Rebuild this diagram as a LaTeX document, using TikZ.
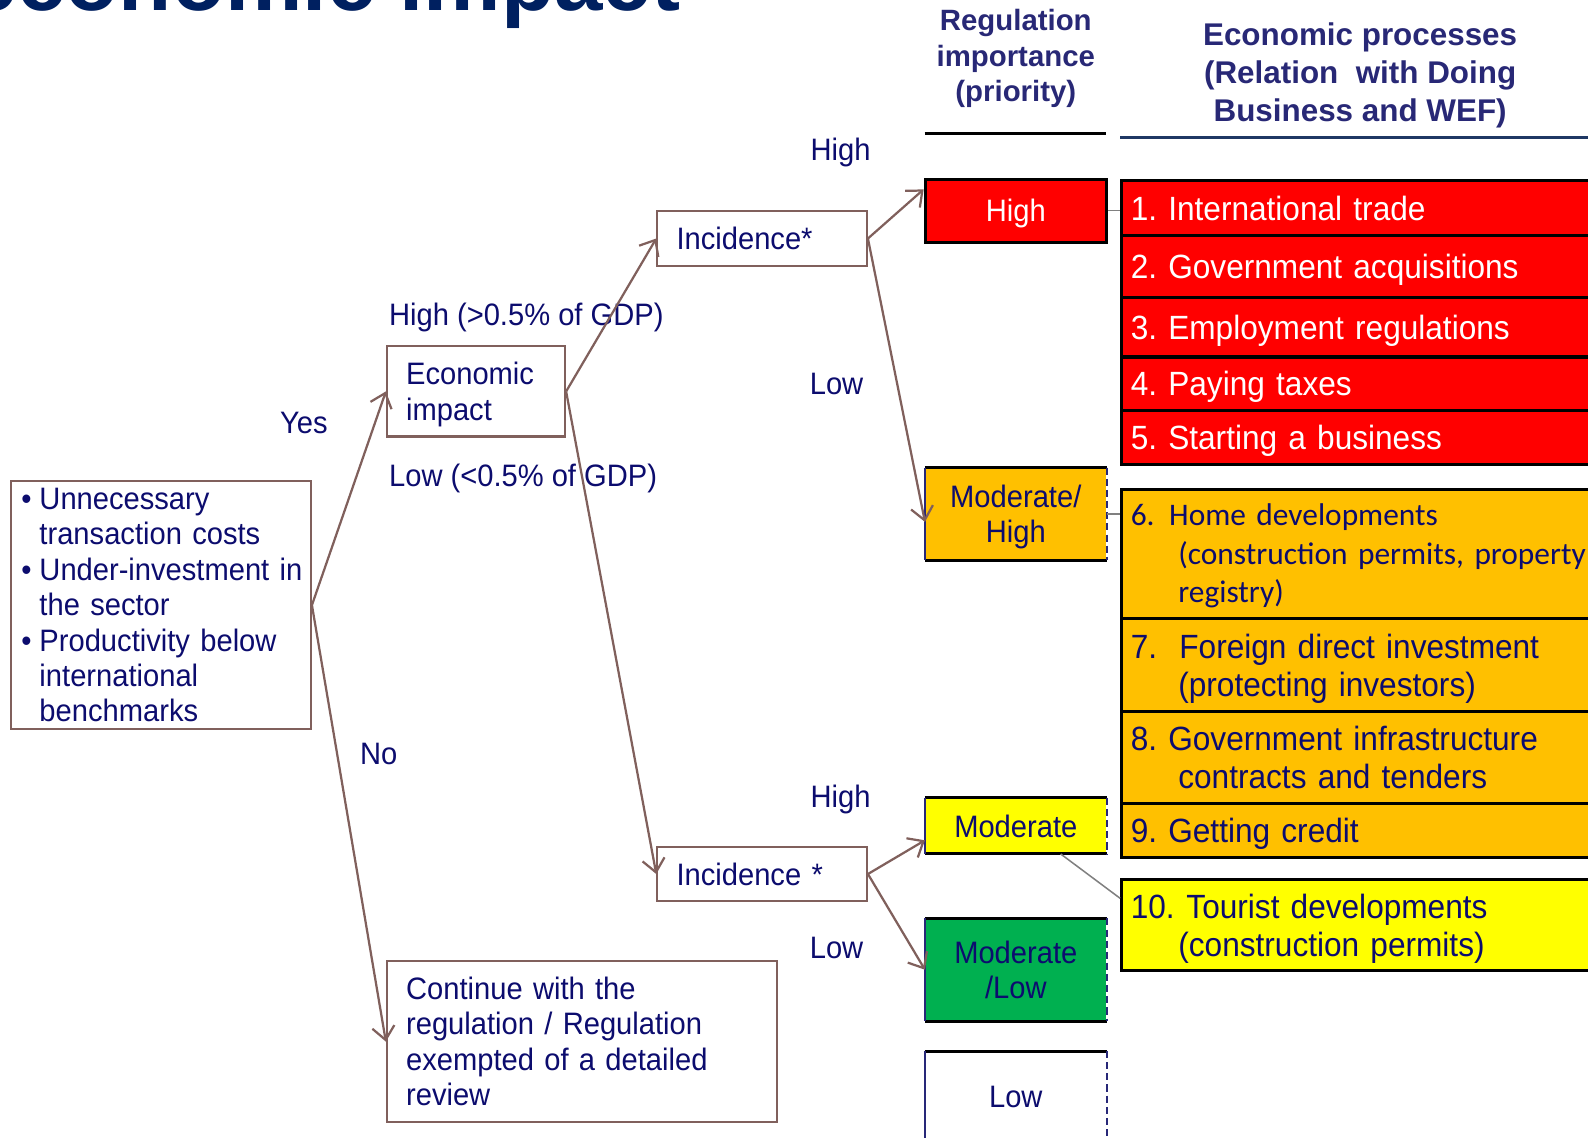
\documentclass[tikz,border=0pt]{standalone}
\usepackage{fontspec}
\setmainfont{Liberation Sans}[FakeStretch=0.94]
\newfontfamily\headfont{Liberation Sans}
\newfontfamily\calfont{Carlito}
\usetikzlibrary{arrows.meta}

\definecolor{inkblue}{RGB}{12,12,110}
\definecolor{headblue}{RGB}{40,40,118}
\definecolor{titleblue}{RGB}{0,32,96}
\definecolor{linkbrown}{RGB}{128,96,92}
\definecolor{ruleblue}{RGB}{31,56,100}
\definecolor{edgenavy}{RGB}{40,40,120}
\definecolor{prioRed}{RGB}{255,0,0}
\definecolor{prioOrange}{RGB}{255,192,0}
\definecolor{prioYellow}{RGB}{255,255,0}
\definecolor{prioGreen}{RGB}{0,176,80}

\begin{document}
\frenchspacing
\begin{tikzpicture}[x=1pt,y=-1pt,
  body/.style={text=inkblue,font=\fontsize{30.6}{35}\selectfont},
  lbl/.style={body,inner sep=0pt},
  flowbox/.style={body,draw=linkbrown,line width=2pt,align=left,
    inner xsep=19pt,inner ysep=0pt,anchor=north west},
  link/.style={draw=linkbrown,line width=2.2pt,
    -{Straight Barb[length=13pt,width=22pt]}},
  greylink/.style={draw=gray,line width=1.5pt},
  tier/.style={body,minimum width=179pt,inner sep=0pt,align=center},
  oneline/.style={text height=22pt,text depth=0pt},
  twoline/.style={text height=57pt,text depth=0pt},
  rowbox/.style={draw=black,line width=3pt,anchor=north west,
    text width=482pt,inner xsep=9pt,inner ysep=0pt,align=left,
    text=inkblue,font=\fontsize{33.2}{37.5}\selectfont,text height=24pt,text depth=0pt},
  rowtwo/.style={text depth=37.5pt},
  headtext/.style={text=headblue,align=center,inner sep=0pt}
]
\useasboundingbox (0,0) rectangle (1568,1123);
\fill[white] (0,0) rectangle (1568,1123);

% slide title, running off the top edge
\node[anchor=base east,inner sep=0pt,text=titleblue,
  font=\headfont\bfseries\fontsize{86}{90}\selectfont] (title) at (672,10) {economic impact};

% column headings and their rules
\node[headtext,font=\headfont\bfseries\fontsize{29}{35}\selectfont] (hdprio) at (1003,58)
  {Regulation\\importance\\(priority)};
\node[headtext,font=\headfont\bfseries\fontsize{31}{37.5}\selectfont] (hdproc) at (1343,74)
  {Economic processes\\(Relation\ \ with Doing\\Business and WEF)};
\draw[line width=3pt,black] (913,132) -- (1092,132);
\draw[line width=3pt,ruleblue] (1106,136) -- (1600,136);

% decision tree
\node[flowbox,text width=284pt,inner xsep=6pt,minimum height=245pt] (cause) at (10,474)
  {\hspace*{4pt}\makebox[18pt][l]{•}Unnecessary\\
   \hspace*{22pt}transaction costs\\
   \hspace*{4pt}\makebox[18pt][l]{•}Under-investment in\\
   \hspace*{22pt}the sector\\
   \hspace*{4pt}\makebox[18pt][l]{•}Productivity below\\
   \hspace*{22pt}international\\
   \hspace*{22pt}benchmarks};
\node[flowbox,text width=138pt,minimum height=89pt,text height=22pt,text depth=35pt] (ei) at (381,341) {Economic\\impact};
\node[flowbox,text width=169pt,minimum height=55pt] (inc1) at (648,207) {Incidence*};
\node[flowbox,text width=169pt,minimum height=54pt] (inc2) at (648,835) {Incidence *};
\node[flowbox,text width=347pt,minimum height=159pt] (cont) at (381,948)
  {Continue with the\\regulation / Regulation\\exempted of a detailed\\review};

% branch labels
\node[lbl] (yes) at (300,418) {Yes};
\node[lbl] (no) at (374,744) {No};
\node[lbl,anchor=west] (eihigh) at (384,313) {High (>0.5\% of GDP)};
\node[lbl,anchor=west] (eilow) at (384,472) {Low (<0.5\% of GDP)};
\node[lbl] (i1high) at (830,151) {High};
\node[lbl] (i1low) at (826,379) {Low};
\node[lbl] (i2high) at (830,789) {High};
\node[lbl] (i2low) at (826,936) {Low};

% priority tiers
\node[tier,oneline,fill=prioRed,text=white,minimum height=62pt,draw=black,line width=3pt] (hi) at (1003,208) {High};
\node[tier,twoline,fill=prioOrange,minimum height=91pt] (mh) at (1003,507.5) {Moderate/\\High};
\node[tier,oneline,fill=prioYellow,minimum height=55pt] (mod) at (1003,815.5) {Moderate};
\node[tier,twoline,fill=prioGreen,minimum height=101pt] (ml) at (1003,957.5) {Moderate\\/Low};
\node[tier,oneline,minimum height=90pt] (lo) at (1003,1083) {Low};
\foreach \t in {mh,mod,ml,lo} {
  \draw[line width=3pt] (\t.north west) -- (\t.north east) (\t.south west) -- (\t.south east);
  \draw[edgenavy,line width=2pt] (\t.north west) -- (\t.south west);
  \draw[edgenavy,line width=2pt,dash pattern=on 7pt off 4pt] (\t.north east) -- (\t.south east);
}

% economic processes
\node[rowbox,fill=prioRed,text=white,minimum height=54pt] (r1) at (1106,177) {1. International trade};
\node[rowbox,fill=prioRed,text=white,minimum height=61pt] (r2) at (1106,231) {2. Government acquisitions};
\node[rowbox,fill=prioRed,text=white,minimum height=59pt] (r3) at (1106,292) {3. Employment regulations};
\node[rowbox,fill=prioRed,text=white,minimum height=53pt] (r4) at (1106,351) {4. Paying taxes};
\node[rowbox,fill=prioRed,text=white,minimum height=53pt] (r5) at (1106,404) {5. Starting a business};
\node[rowbox,fill=prioOrange,minimum height=127pt,font=\calfont\fontsize{31}{38}\selectfont,
  text height=20pt,text depth=76pt] (r6) at (1106,482)
  {\makebox[38pt][l]{6.}Home developments\\
   \hspace*{47pt}(construction permits, property\\
   \hspace*{47pt}registry)};
\node[rowbox,rowtwo,fill=prioOrange,minimum height=92pt] (r7) at (1106,609)
  {\makebox[48pt][l]{7.}Foreign direct investment\\
   \hspace*{47pt}(protecting investors)};
\node[rowbox,rowtwo,fill=prioOrange,minimum height=91pt] (r8) at (1106,701)
  {8. Government infrastructure\\
   \hspace*{47pt}contracts and tenders};
\node[rowbox,fill=prioOrange,minimum height=53pt] (r9) at (1106,792) {9. Getting credit};
\node[rowbox,rowtwo,fill=prioYellow,minimum height=90pt] (r10) at (1106,867)
  {\makebox[55pt][l]{10.}Tourist developments\\
   \hspace*{47pt}(construction permits)};

% tier-to-process ties
\coordinate (tourin) at (1106,887);
\draw[greylink] (hi.east) -- (hi.east -| r1.west);
\draw[greylink] (mh.east) -- (mh.east -| r6.west);
\draw[greylink] (mod.-32) -- (tourin);

% decision arrows
\draw[link] (cause.east) -- (ei.west);
\draw[link] (cause.east) -- (cont.west);
\draw[link] (ei.east) -- (inc1.west);
\draw[link] (ei.east) -- (inc2.west);
\draw[link] (inc1.east) -- (hi.167);
\draw[link] (inc1.east) -- (mh.185);
\draw[link] (inc2.east) -- (mod.189);
\draw[link] (inc2.east) -- (ml.west);
\end{tikzpicture}
\end{document}
